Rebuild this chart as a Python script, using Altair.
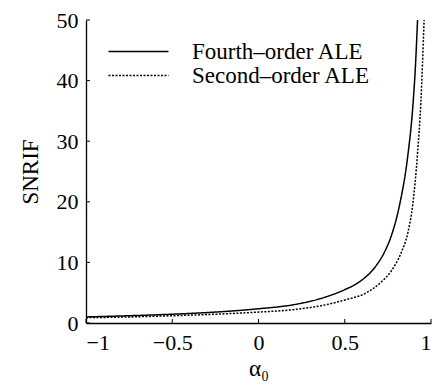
import altair as alt
import pandas as pd

# values
alpha_fourth = [-1.0, -0.75, -0.5, -0.25, 0.0, 0.2, 0.39, 0.5, 0.58, 0.675, 0.732, 0.77, 0.818, 0.865, 0.894, 0.91, 0.922]
snrif_fourth = [1.0, 1.2, 1.45, 1.8, 2.35, 3.0, 4.3, 5.5, 6.7, 9.2, 11.8, 14.4, 19.5, 27.5, 35.5, 42.5, 50.0]

alpha_second = [-1.0, -0.75, -0.5, -0.25, 0.0, 0.2, 0.39, 0.5, 0.62, 0.713, 0.77, 0.827, 0.865, 0.894, 0.922, 0.941, 0.96]
snrif_second = [0.88, 1.0, 1.2, 1.45, 1.8, 2.2, 3.0, 3.8, 4.9, 6.8, 8.6, 11.6, 14.8, 19.5, 28.0, 36.3, 50.0]

series_names = ["Fourth–order ALE", "Second–order ALE"]
x_ticks = [-1, -0.5, 0, 0.5, 1]
y_ticks = [0, 10, 20, 30, 40, 50]

df = pd.concat([
    pd.DataFrame({"alpha": alpha_fourth, "snrif": snrif_fourth, "series": series_names[0]}),
    pd.DataFrame({"alpha": alpha_second, "snrif": snrif_second, "series": series_names[1]}),
])
xt = pd.DataFrame({"v": x_ticks})
yt = pd.DataFrame({"v": y_ticks})

FONT = "Liberation Serif"
W, H = 345, 303

x_scale = alt.Scale(domain=[-1, 1], nice=False, zero=False)
y_scale = alt.Scale(domain=[0, 50], nice=False)

lines = alt.Chart(df).mark_line(color="black", strokeWidth=1.5, interpolate="monotone").encode(
    x=alt.X("alpha:Q", scale=x_scale,
            axis=alt.Axis(values=x_ticks, format="~g", title="α₀", tickSize=0,
                          labelPadding=9, titlePadding=4, grid=False)),
    y=alt.Y("snrif:Q", scale=y_scale,
            axis=alt.Axis(values=y_ticks, title="SNRIF", tickSize=0,
                          labelPadding=8, titlePadding=14, grid=False)),
    strokeDash=alt.StrokeDash(
        "series:N",
        scale=alt.Scale(domain=series_names, range=[[1, 0], [2, 1.5]]),
        legend=alt.Legend(title=None, orient="none", legendX=41, legendY=20, padding=0,
                          symbolType="M-6,0H6", symbolSize=100, symbolStrokeWidth=1.5,
                          symbolStrokeColor="black", labelFont=FONT, labelFontSize=23,
                          labelColor="black", labelOffset=42, rowPadding=0,
                          labelLimit=400),
    ),
    order=alt.Order("alpha:Q"),
)

yticks = alt.Chart(yt).mark_rule(color="black", strokeWidth=1).encode(
    y=alt.Y("v:Q", scale=y_scale), x=alt.value(0), x2=alt.value(4)
)
xticks = alt.Chart(xt).mark_rule(color="black", strokeWidth=1).encode(
    x=alt.X("v:Q", scale=x_scale), y=alt.value(H), y2=alt.value(H - 4)
)

chart = alt.layer(lines, yticks, xticks).properties(
    width=W, height=H,
    autosize=alt.AutoSizeParams(type="none"),
    padding={"left": 78, "top": 12, "right": 6, "bottom": 59},
).configure_view(stroke=None).configure_axis(
    domainColor="black", domainWidth=1.3,
    labelFont=FONT, labelFontSize=22, labelColor="black",
    titleFont=FONT, titleFontSize=23, titleColor="black", titleFontWeight="normal",
)

chart.save("out.html", embed_options={"renderer": "svg", "actions": False})
